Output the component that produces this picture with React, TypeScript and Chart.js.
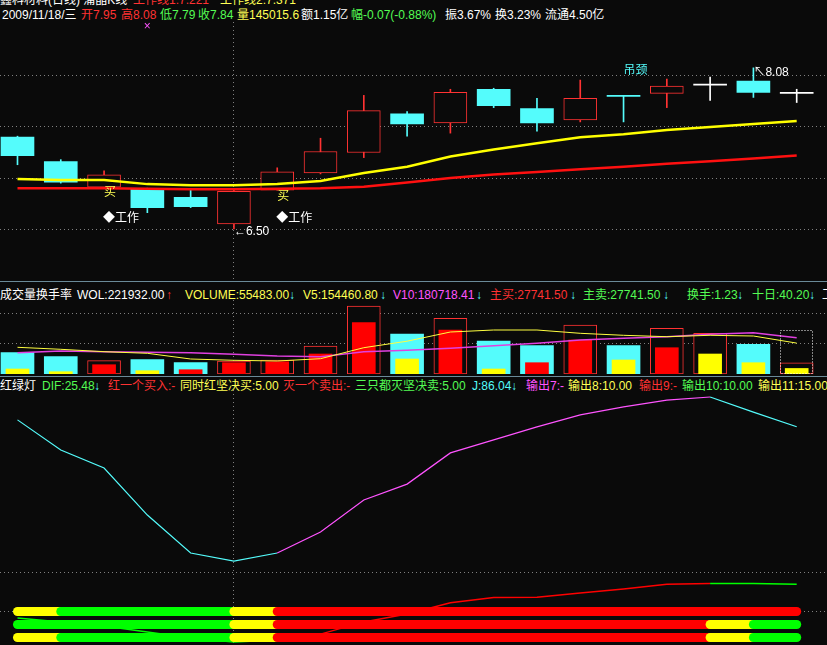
import React, { useEffect, useRef } from 'react';
import { Chart, registerables } from 'chart.js';

Chart.register(...registerables);

// ---------- data ----------
const dates = [
  '2009-10-26', '2009-10-27', '2009-10-28', '2009-10-29', '2009-10-30',
  '2009-11-02', '2009-11-03', '2009-11-04', '2009-11-05', '2009-11-06',
  '2009-11-09', '2009-11-10', '2009-11-11', '2009-11-12', '2009-11-13',
  '2009-11-16', '2009-11-17', '2009-11-18', '2009-11-19',
];
const openP = [7.40, 7.16, 6.91, 6.89, 6.81, 6.55, 6.88, 7.05, 7.25, 7.63, 7.54, 7.87, 7.68, 7.57, 7.81, 7.83, 7.91, 7.95, 7.83];
const highP = [7.41, 7.18, 7.07, 6.90, 6.88, 6.88, 7.10, 7.39, 7.81, 7.65, 7.87, 7.88, 7.78, 7.96, 7.81, 7.97, 7.99, 8.08, 7.87];
const lowP = [7.13, 6.95, 6.91, 6.66, 6.71, 6.50, 6.88, 7.04, 7.20, 7.41, 7.44, 7.69, 7.46, 7.55, 7.55, 7.69, 7.76, 7.79, 7.74];
const closeP = [7.22, 6.96, 7.03, 6.71, 6.72, 6.87, 7.06, 7.26, 7.66, 7.53, 7.84, 7.71, 7.54, 7.78, 7.80, 7.90, 7.91, 7.84, 7.83];
const workLine2 = [6.99, 6.98, 6.98, 6.94, 6.93, 6.93, 6.94, 6.97, 7.05, 7.11, 7.21, 7.28, 7.34, 7.40, 7.43, 7.47, 7.50, 7.53, 7.56];
const workLine1 = [6.90, 6.90, 6.90, 6.895, 6.89, 6.89, 6.895, 6.90, 6.915, 6.955, 7.00, 7.035, 7.06, 7.085, 7.11, 7.14, 7.165, 7.19, 7.221];
const priceGrid = [6.5, 7.0, 7.5, 8.0];
const buySignalIdx = [2, 6];
const workSignalIdx = [2, 6];
const workSignalLevel = 6.60;
const hangingManIdx = [14];
const crossMarkIdx = [3];

const volTotal = [106500, 86500, 66500, 71500, 56500, 65000, 70000, 140000, 340000, 200000, 278500, 165000, 141500, 245000, 141500, 228500, 203500, 148500, 221932];
const volCurrent = [null, null, null, null, null, null, null, null, null, null, null, null, null, null, null, null, null, null, 55483];
const volInner = [25000, 11500, 46500, 16500, 21500, 56500, 61500, 100000, 256500, 75000, 220000, 25000, 56500, 170000, 70000, 131500, 100000, 56500, 27741.5];
const innerSide = ['S', 'S', 'B', 'S', 'B', 'B', 'B', 'B', 'B', 'S', 'B', 'S', 'B', 'B', 'S', 'B', 'S', 'S', 'S'];
const v5 = [133500, 123500, 111500, 103500, 75000, 68500, 65000, 76500, 131500, 164000, 210000, 220000, 220000, 203500, 193500, 186500, 193500, 190000, 154460.8];
const v10 = [106500, 115000, 111500, 108500, 106500, 98500, 90000, 86500, 111500, 118500, 128500, 141500, 153500, 170000, 178500, 186500, 198500, 206500, 180718.41];
const volGrid = [150000, 300000];

const jLine = [88.7, 77.1, 70.2, 52.1, 37.5, 34.4, 37.5, 45.6, 57.9, 64.0, 76.0, 81.0, 86.0, 90.6, 93.7, 96.3, 97.5, 91.7, 86.04];
const jState = ['D', 'D', 'D', 'D', 'D', 'D', 'D', 'U', 'U', 'U', 'U', 'U', 'U', 'U', 'U', 'U', 'U', 'D', 'D'];
const difLine = [12.5, 11.0, 9.4, 7.1, 4.8, 3.3, 4.0, 6.3, 11.0, 14.0, 18.4, 20.4, 20.5, 22.1, 23.7, 25.5, 25.8, 25.8, 25.48];
const difState = ['G', 'G', 'G', 'G', 'G', 'G', 'G', 'R', 'R', 'R', 'R', 'R', 'R', 'R', 'R', 'R', 'R', 'G', 'G'];
const out11Value = 15;
const out11State = ['Y', 'Y', 'G', 'G', 'G', 'G', 'Y', 'R', 'R', 'R', 'R', 'R', 'R', 'R', 'R', 'R', 'R', 'R', 'R'];
const out10Value = 10;
const out10State = ['G', 'G', 'G', 'G', 'G', 'G', 'Y', 'R', 'R', 'R', 'R', 'R', 'R', 'R', 'R', 'R', 'R', 'Y', 'G'];
const out5Value = 5;
const out5State = ['Y', 'Y', 'G', 'G', 'G', 'G', 'Y', 'R', 'R', 'R', 'R', 'R', 'R', 'R', 'R', 'R', 'R', 'Y', 'G'];
const indGrid = [15, 30];

// ---------- styles ----------
const BG = '#0a0a0a';
const RED = '#ff3232';
const LINE_RED = '#ff1010';
const CYAN = '#54fcfc';
const YELLOW = '#ffff54';
const GREEN = '#54fc54';
const MAGENTA = '#ff54ff';
const WHITE = '#ffffff';
const GRID = '#808080';
const FONT_FAMILY = "'Liberation Sans', 'Noto Sans CJK SC', sans-serif";
const FONT = '12px ' + FONT_FAMILY;
const W = 827;
const X_MIN = -0.404;
const X_MAX = 18.70;

const idx = dates.map((_, i) => i);
const last = dates.length - 1;
const sel = dates.indexOf('2009-11-18');
const monthStart = dates.findIndex((d) => d.slice(0, 7) !== dates[0].slice(0, 7));
const stateColor: Record<string, string> = { R: '#ff0000', G: '#00ff00', Y: '#ffff00', U: MAGENTA, D: CYAN };

function xAxis(): any {
  return {
    type: 'linear',
    min: X_MIN,
    max: X_MAX,
    offset: false,
    afterBuildTicks: (s: any) => { s.ticks = [{ value: monthStart }]; },
    ticks: { display: false },
    grid: { color: GRID, drawTicks: false, offset: false },
    border: { display: false, dash: [1, 3] },
  };
}
function yAxis(min: number, max: number, grid: number[]): any {
  return {
    type: 'linear',
    min,
    max,
    afterBuildTicks: (s: any) => { s.ticks = grid.map((v) => ({ value: v })); },
    ticks: { display: false },
    grid: { color: GRID, drawTicks: false },
    border: { display: false, dash: [1, 3] },
  };
}
const common: any = {
  responsive: false,
  animation: false,
  events: [],
  layout: { padding: 0 },
  plugins: { legend: { display: false }, tooltip: { enabled: false } },
};

const dir = (i: number) => (closeP[i] > openP[i] ? 1 : closeP[i] < openP[i] ? -1 : 0);

// ---------- plugins ----------
const priceMarks = {
  id: 'priceMarks',
  afterDatasetsDraw(chart: any) {
    const { ctx, scales, chartArea } = chart;
    const x = scales.x, y = scales.y;
    ctx.save();
    ctx.font = FONT;
    ctx.fillStyle = YELLOW;
    ctx.textAlign = 'center';
    ctx.textBaseline = 'top';
    buySignalIdx.forEach((i) => ctx.fillText('买', x.getPixelForValue(i) + 6, y.getPixelForValue(lowP[i])));
    ctx.fillStyle = WHITE;
    ctx.textAlign = 'left';
    ctx.textBaseline = 'middle';
    workSignalIdx.forEach((i) => ctx.fillText('◆工作', x.getPixelForValue(i) - 1, y.getPixelForValue(workSignalLevel)));
    const li = lowP.indexOf(Math.min(...lowP));
    ctx.fillText('←' + lowP[li].toFixed(2), x.getPixelForValue(li), y.getPixelForValue(lowP[li]) + 3);
    const hi = highP.indexOf(Math.max(...highP));
    ctx.textBaseline = 'top';
    ctx.fillText('↖' + highP[hi].toFixed(2), x.getPixelForValue(hi), y.getPixelForValue(highP[hi]) - 1);
    ctx.fillStyle = CYAN;
    ctx.textBaseline = 'middle';
    hangingManIdx.forEach((i) => ctx.fillText('吊颈', x.getPixelForValue(i), y.getPixelForValue(highP[i]) - 25));
    ctx.fillStyle = MAGENTA;
    ctx.textAlign = 'center';
    crossMarkIdx.forEach((i) => ctx.fillText('×', x.getPixelForValue(i), chartArea.top + 5));
    ctx.restore();
  },
};

const volHighlight = {
  id: 'volHighlight',
  afterDatasetsDraw(chart: any) {
    const el = chart.getDatasetMeta(0).data[last];
    if (!el) return;
    const { x, y, base, width } = el.getProps(['x', 'y', 'base', 'width'], true);
    const ctx = chart.ctx;
    ctx.save();
    ctx.strokeStyle = WHITE;
    ctx.lineWidth = 1;
    ctx.setLineDash([1, 2]);
    ctx.strokeRect(Math.round(x - width / 2) + 0.5, Math.round(y) + 0.5, Math.round(width) - 1, Math.round(base - y) - 1);
    ctx.restore();
  },
};

// ---------- configs ----------
function priceConfig(): any {
  return {
    type: 'bar',
    data: {
      datasets: [
        {
          label: 'wick',
          data: idx.map((i) => ({ x: i, y: [lowP[i], highP[i]] })),
          backgroundColor: idx.map((i) => (dir(i) > 0 ? RED : dir(i) < 0 ? CYAN : WHITE)),
          borderWidth: 0,
          barThickness: 1,
          grouped: false,
          order: 3,
        },
        {
          label: 'body',
          data: idx.map((i) => ({ x: i, y: [openP[i], closeP[i]] })),
          backgroundColor: idx.map((i) => (dir(i) > 0 ? BG : dir(i) < 0 ? CYAN : WHITE)),
          borderColor: idx.map((i) => (dir(i) > 0 ? RED : 'rgba(0,0,0,0)')),
          borderWidth: idx.map((i) => (dir(i) > 0 ? 1 : 0)),
          borderSkipped: false,
          barThickness: 33,
          minBarLength: 1,
          grouped: false,
          order: 2,
        },
        {
          type: 'line',
          label: '工作线2',
          data: idx.map((i) => ({ x: i, y: workLine2[i] })),
          borderColor: '#ffff00',
          borderWidth: 2.5,
          pointRadius: 0,
          tension: 0,
          order: 1,
        },
        {
          type: 'line',
          label: '工作线1',
          data: idx.map((i) => ({ x: i, y: workLine1[i] })),
          borderColor: LINE_RED,
          borderWidth: 2.5,
          pointRadius: 0,
          tension: 0,
          order: 1,
        },
      ],
    },
    options: {
      ...common,
      scales: { x: xAxis(), y: yAxis(6.0, 6.0 + 258 / 102, priceGrid) },
    },
    plugins: [priceMarks],
  };
}

function volumeConfig(): any {
  const outerUp = (i: number) => dir(i) >= 0;
  return {
    type: 'bar',
    data: {
      datasets: [
        {
          label: 'WOL',
          data: idx.map((i) => ({ x: i, y: volTotal[i] })),
          backgroundColor: idx.map((i) => (i === last ? 'rgba(0,0,0,0)' : outerUp(i) ? BG : CYAN)),
          borderColor: idx.map((i) => (i === last ? 'rgba(0,0,0,0)' : outerUp(i) ? RED : 'rgba(0,0,0,0)')),
          borderWidth: idx.map((i) => (i !== last && outerUp(i) ? 1 : 0)),
          borderSkipped: false,
          barThickness: 33,
          grouped: false,
          order: 4,
        },
        {
          label: 'VOLUME',
          data: idx.map((i) => ({ x: i, y: volCurrent[i] })),
          backgroundColor: idx.map((i) => (outerUp(i) ? BG : CYAN)),
          borderColor: idx.map((i) => (outerUp(i) ? RED : 'rgba(0,0,0,0)')),
          borderWidth: 1,
          borderSkipped: false,
          barThickness: 33,
          grouped: false,
          order: 3,
        },
        {
          label: 'inner',
          data: idx.map((i) => ({ x: i, y: volInner[i] })),
          backgroundColor: idx.map((i) => (innerSide[i] === 'B' ? '#ff0000' : '#ffff00')),
          borderWidth: 0,
          barThickness: 23,
          grouped: false,
          order: 2,
        },
        {
          type: 'line',
          label: 'V5',
          data: idx.map((i) => ({ x: i, y: v5[i] })),
          borderColor: '#ffff40',
          borderWidth: 1,
          pointRadius: 0,
          tension: 0,
          order: 1,
        },
        {
          type: 'line',
          label: 'V10',
          data: idx.map((i) => ({ x: i, y: v10[i] })),
          borderColor: '#e040e0',
          borderWidth: 1.5,
          pointRadius: 0,
          tension: 0,
          order: 1,
        },
      ],
    },
    options: {
      ...common,
      scales: { x: xAxis(), y: yAxis(0, 74 * 5000, volGrid) },
    },
    plugins: [volHighlight],
  };
}

function rowDataset(label: string, value: number, state: string[]): any {
  return {
    label,
    data: idx.map((i) => ({ x: i, y: value })),
    borderWidth: 9,
    borderCapStyle: 'round',
    borderJoinStyle: 'round',
    borderColor: stateColor[state[0]],
    segment: { borderColor: (c: any) => stateColor[state[c.p1DataIndex]] },
    pointRadius: 0,
    order: 1,
  };
}

function indicatorConfig(): any {
  return {
    type: 'line',
    data: {
      datasets: [
        {
          label: 'DIF',
          data: idx.map((i) => ({ x: i, y: difLine[i] })),
          borderColor: stateColor.G,
          borderWidth: 1.5,
          segment: { borderColor: (c: any) => stateColor[difState[c.p1DataIndex]] },
          pointRadius: 0,
          tension: 0,
          order: 3,
        },
        {
          label: 'J',
          data: idx.map((i) => ({ x: i, y: jLine[i] })),
          borderColor: CYAN,
          borderWidth: 1.2,
          segment: { borderColor: (c: any) => stateColor[jState[c.p1DataIndex]] },
          pointRadius: 0,
          tension: 0,
          order: 2,
        },
        rowDataset('输出11', out11Value, out11State),
        rowDataset('输出10', out10Value, out10State),
        rowDataset('坚决', out5Value, out5State),
      ],
    },
    options: {
      ...common,
      scales: { x: xAxis(), y: yAxis((650.5 - 660) / 2.6, (650.5 - 390) / 2.6, indGrid) },
    },
  };
}

// ---------- header texts ----------
type Piece = { t: string; x: number; c: string };
const f2 = (v: number) => v.toFixed(2);
const line1: Piece[] = [
  { t: '鑫科材料(日线) 蒲晶K线', x: 0, c: WHITE },
  { t: '工作线1:' + workLine1[last].toFixed(3), x: 133, c: RED },
  { t: '工作线2:7.371', x: 220, c: YELLOW },
];
const line2: Piece[] = [
  { t: '2009/11/18/三', x: 2, c: WHITE },
  { t: '开' + f2(openP[sel]), x: 81, c: RED },
  { t: '高' + f2(highP[sel]), x: 121, c: RED },
  { t: '低' + f2(lowP[sel]), x: 160, c: GREEN },
  { t: '收' + f2(closeP[sel]), x: 198, c: GREEN },
  { t: '量145015.6', x: 237, c: YELLOW },
  { t: '额1.15亿', x: 301, c: WHITE },
  { t: '幅-0.07(-0.88%)', x: 351, c: GREEN },
  { t: '振3.67%', x: 445, c: WHITE },
  { t: '换3.23%', x: 495, c: WHITE },
  { t: '流通4.50亿', x: 545, c: WHITE },
];
const volHeader: Piece[] = [
  { t: '成交量换手率', x: 0, c: WHITE },
  { t: 'WOL:' + f2(volTotal[last]), x: 77, c: WHITE },
  { t: '↑', x: 166, c: RED },
  { t: 'VOLUME:' + f2(volCurrent[last] as number), x: 185, c: YELLOW },
  { t: '↓', x: 289, c: CYAN },
  { t: 'V5:' + f2(v5[last]), x: 303, c: YELLOW },
  { t: '↓', x: 380, c: CYAN },
  { t: 'V10:' + f2(v10[last]), x: 393, c: MAGENTA },
  { t: '↓', x: 476, c: CYAN },
  { t: '主买:' + f2(volInner[last]), x: 490, c: RED },
  { t: '↓', x: 570, c: CYAN },
  { t: '主卖:' + f2(volInner[last]), x: 583, c: GREEN },
  { t: '↓', x: 663, c: CYAN },
  { t: '换手:1.23', x: 687, c: GREEN },
  { t: '↓', x: 737, c: CYAN },
  { t: '十日:40.20', x: 752, c: GREEN },
  { t: '↓', x: 809, c: CYAN },
  { t: '工', x: 822, c: WHITE },
];
const indHeader: Piece[] = [
  { t: '红绿灯', x: 0, c: WHITE },
  { t: 'DIF:' + f2(difLine[last]), x: 42, c: GREEN },
  { t: '↓', x: 94, c: CYAN },
  { t: '红一个买入:-', x: 108, c: RED },
  { t: '同时红坚决买:' + f2(out5Value), x: 180, c: YELLOW },
  { t: '灭一个卖出:-', x: 283, c: RED },
  { t: '三只都灭坚决卖:' + f2(out5Value), x: 355, c: GREEN },
  { t: 'J:' + f2(jLine[last]), x: 472, c: CYAN },
  { t: '↓', x: 511, c: CYAN },
  { t: '输出7:-', x: 526, c: MAGENTA },
  { t: '输出8:' + f2(out10Value), x: 568, c: YELLOW },
  { t: '输出9:-', x: 639, c: RED },
  { t: '输出10:' + f2(out10Value), x: 682, c: GREEN },
  { t: '输出11:' + f2(out11Value), x: 758, c: YELLOW },
];

function TextRow({ pieces, top }: { pieces: Piece[]; top: number }) {
  return (
    <>
      {pieces.map((p, k) => (
        <span
          key={k}
          style={{
            position: 'absolute',
            left: p.x,
            top,
            color: p.c,
            font: FONT,
            lineHeight: '14px',
            whiteSpace: 'nowrap',
          }}
        >
          {p.t}
        </span>
      ))}
    </>
  );
}

function ChartCanvas({ top, height, make }: { top: number; height: number; make: () => any }) {
  const ref = useRef<HTMLCanvasElement | null>(null);
  useEffect(() => {
    if (!ref.current) return;
    const chart = new Chart(ref.current, make());
    return () => chart.destroy();
  }, []);
  return (
    <canvas
      ref={ref}
      width={W}
      height={height}
      style={{ position: 'absolute', left: 0, top, width: W, height, display: 'block' }}
    />
  );
}

export default function App() {
  return (
    <div
      style={{
        position: 'fixed',
        left: 0,
        top: 0,
        width: W,
        height: 645,
        overflow: 'hidden',
        background: BG,
      }}
    >
      <TextRow pieces={line1} top={-7} />
      <TextRow pieces={line2} top={8} />
      <ChartCanvas top={22} height={258} make={priceConfig} />
      <div style={{ position: 'absolute', left: 0, top: 281, width: W, height: 1, background: '#6a8a98' }} />
      <TextRow pieces={volHeader} top={288} />
      <ChartCanvas top={300} height={74} make={volumeConfig} />
      <div style={{ position: 'absolute', left: 0, top: 376, width: W, height: 1, background: '#6a8a98' }} />
      <TextRow pieces={indHeader} top={379} />
      <ChartCanvas top={390} height={270} make={indicatorConfig} />
    </div>
  );
}
